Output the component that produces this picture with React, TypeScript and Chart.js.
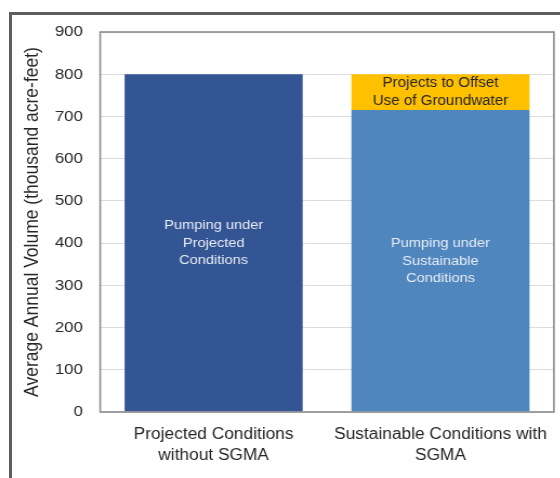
import React, { useEffect, useRef } from "react";
import { Chart, registerables } from "chart.js";

Chart.register(...registerables);

// ---- data ----
const categories: string[][] = [
  ["Projected Conditions", "without SGMA"],
  ["Sustainable Conditions with", "SGMA"],
];
const pumpingValues = [800, 715];
const offsetValues = [0, 85];
const pumpingLabels: string[][] = [
  ["Pumping under", "Projected", "Conditions"],
  ["Pumping under", "Sustainable", "Conditions"],
];
const offsetLabels: string[][] = [[], ["Projects to Offset", "Use of Groundwater"]];
const yMin = 0;
const yMax = 900;
const yStep = 100;
const yTitle = "Average Annual Volume (thousand acre-feet)";

// ---- styles ----
const pumpingColors = ["#335593", "#4f86be"];
const offsetColor = "#ffc000";
const FONT = "'Liberation Sans', Arial, sans-serif";
const SX = 1.08; // horizontal stretch of the picture
const W = 560;
const H = 478;

const framePlugin = {
  id: "plotFrame",
  afterDatasetsDraw(chart: any) {
    const { ctx, chartArea: a } = chart;
    ctx.save();
    ctx.strokeStyle = "#8c8c8c";
    ctx.lineWidth = 1.6;
    ctx.strokeRect(a.left, a.top, a.right - a.left, a.bottom - a.top);
    ctx.restore();
  },
};

const barLabelPlugin = {
  id: "barLabels",
  afterDatasetsDraw(chart: any) {
    const { ctx } = chart;
    const sets: { idx: number; labels: string[][]; color: string; size: number; gap: number }[] = [
      { idx: 0, labels: pumpingLabels, color: "#e8ecf4", size: 13.5, gap: 17.5 },
      { idx: 1, labels: offsetLabels, color: "#262626", size: 14, gap: 18 },
    ];
    ctx.save();
    ctx.textAlign = "center";
    ctx.textBaseline = "middle";
    for (const s of sets) {
      const meta = chart.getDatasetMeta(s.idx);
      meta.data.forEach((bar: any, i: number) => {
        const lines = s.labels[i] || [];
        if (!lines.length) return;
        const cy = (bar.y + bar.base) / 2;
        ctx.fillStyle = s.color;
        ctx.font = `${s.size}px ${FONT}`;
        const start = cy - ((lines.length - 1) * s.gap) / 2;
        lines.forEach((ln, k) => ctx.fillText(ln, bar.x, start + k * s.gap));
      });
    }
    ctx.restore();
  },
};

export default function App() {
  const ref = useRef<HTMLCanvasElement | null>(null);

  useEffect(() => {
    if (!ref.current) return;
    const chart = new Chart(ref.current, {
      type: "bar",
      data: {
        labels: categories,
        datasets: [
          {
            label: "Pumping",
            data: pumpingValues,
            backgroundColor: pumpingColors,
            barPercentage: 0.785,
            categoryPercentage: 1,
          },
          {
            label: "Projects to Offset Use of Groundwater",
            data: offsetValues,
            backgroundColor: offsetColor,
            barPercentage: 0.785,
            categoryPercentage: 1,
          },
        ],
      },
      options: {
        responsive: true,
        maintainAspectRatio: false,
        animation: false,
        layout: { padding: { left: 20, top: 32, right: W / SX - 555 / SX, bottom: 0 } },
        plugins: { legend: { display: false }, tooltip: { enabled: false } },
        scales: {
          x: {
            stacked: true,
            grid: { display: false, drawTicks: false },
            border: { display: false },
            ticks: {
              color: "#262626",
              font: { family: FONT, size: 16, lineHeight: 1.3 },
              padding: 12,
              maxRotation: 0,
              autoSkip: false,
            },
            afterFit: (s: any) => {
              s.height = H - 412;
            },
          },
          y: {
            stacked: true,
            min: yMin,
            max: yMax,
            grid: { color: "#dcdcdc", lineWidth: 1, drawTicks: false },
            border: { display: false },
            ticks: {
              stepSize: yStep,
              color: "#262626",
              font: { family: FONT, size: 15.5 },
              padding: 16,
            },
            title: {
              display: true,
              text: yTitle,
              color: "#262626",
              font: { family: FONT, size: 17.5 },
              padding: { top: 0, bottom: 0 },
            },
            afterFit: (s: any) => {
              s.width = 100 / SX - 20;
            },
          },
        },
      },
      plugins: [framePlugin, barLabelPlugin],
    });
    return () => chart.destroy();
  }, []);

  return (
    <div
      style={{
        position: "fixed",
        left: 0,
        top: 0,
        width: W,
        height: H,
        overflow: "hidden",
        background: "#ffffff",
      }}
    >
      <div
        style={{
          position: "absolute",
          left: 0,
          top: 0,
          width: W / SX,
          height: H,
          transform: `scaleX(${SX})`,
          transformOrigin: "0 0",
        }}
      >
        <canvas ref={ref} />
      </div>
      <div
        style={{
          position: "absolute",
          left: 9,
          top: 12,
          width: W,
          height: H,
          borderTop: "3px solid #5e5e5e",
          borderLeft: "3px solid #5e5e5e",
          pointerEvents: "none",
        }}
      />
    </div>
  );
}
